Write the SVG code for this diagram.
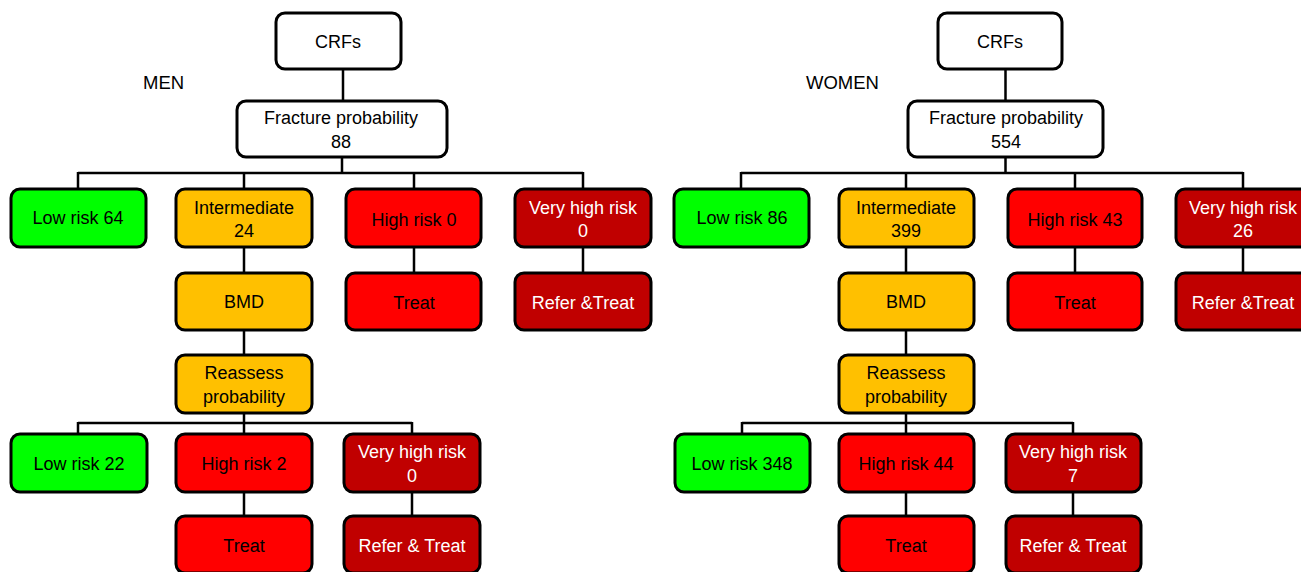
<svg xmlns="http://www.w3.org/2000/svg" width="1301" height="572" viewBox="0 0 1301 572">
<style>
.b{stroke:#000;stroke-width:3}
.wh{fill:#fff}.gr{fill:#00ff00}.am{fill:#ffc000}.rd{fill:#ff0000}.dr{fill:#c00000}
text{font-family:"Liberation Sans",Arial,sans-serif;font-size:18px;text-anchor:middle;fill:#000}
.lt{fill:#fff}
.lab{text-anchor:start;font-size:18.5px}
.c{stroke:#000;stroke-width:2.5;fill:none}
</style>
<rect width="1301" height="572" fill="#fff"/>
<g id="connectors">
<path class="c" d="M343 69V101M342 157V173M78 173H583M78 172V189M244 172V189M414 172V189M583 172V189M244 247V273M414 247V273M583 247V273M244 330V355M244 413V423M78 423H412M78 422V434M244 422V434M412 422V434M244 492V516M412 492V516"/>
<path class="c" d="M1005.5 69V101M1005.5 157V173M741 173H1243M741 172V189M906 172V189M1075 172V189M1243 172V189M906 247V273M1075 247V273M1243 247V273M906 330V355M906 413V423M742 423H1073M742 422V434M906 422V434M1073 422V434M906 492V516M1073 492V516"/>
</g>
<g id="men-label"><text class="lab" x="143" y="89">MEN</text></g>
<g id="women-label"><text class="lab" x="806" y="89">WOMEN</text></g>
<g id="m-crfs"><rect class="b wh" x="276" y="13" width="125" height="56" rx="9"/><text x="338" y="48">CRFs</text></g>
<g id="m-fp"><rect class="b wh" x="237" y="101" width="210" height="56" rx="9"/><text x="341" y="124">Fracture probability</text><text x="341" y="148">88</text></g>
<g id="m-low"><rect class="b gr" x="11" y="189" width="135" height="58" rx="9"/><text x="78" y="224">Low risk 64</text></g>
<g id="m-int"><rect class="b am" x="176" y="189" width="136" height="58" rx="9"/><text x="244" y="214">Intermediate</text><text x="244" y="237">24</text></g>
<g id="m-high"><rect class="b rd" x="346" y="189" width="135" height="58" rx="9"/><text x="414" y="226">High risk 0</text></g>
<g id="m-vhigh"><rect class="b dr" x="515" y="189" width="136" height="58" rx="9"/><text class="lt" x="583" y="214">Very high risk</text><text class="lt" x="583" y="237">0</text></g>
<g id="m-bmd"><rect class="b am" x="176" y="273" width="136" height="57" rx="9"/><text x="244" y="308">BMD</text></g>
<g id="m-treat1"><rect class="b rd" x="346" y="273" width="135" height="57" rx="9"/><text x="414" y="309">Treat</text></g>
<g id="m-refer1"><rect class="b dr" x="515" y="273" width="136" height="57" rx="9"/><text class="lt" x="583" y="309">Refer &amp;Treat</text></g>
<g id="m-reassess"><rect class="b am" x="176" y="355" width="136" height="58" rx="9"/><text x="244" y="379">Reassess</text><text x="244" y="403">probability</text></g>
<g id="m-low2"><rect class="b gr" x="11" y="434" width="136" height="58" rx="9"/><text x="79" y="470">Low risk 22</text></g>
<g id="m-high2"><rect class="b rd" x="176" y="434" width="136" height="58" rx="9"/><text x="244" y="470">High risk 2</text></g>
<g id="m-vhigh2"><rect class="b dr" x="344" y="434" width="136" height="58" rx="9"/><text class="lt" x="412" y="458">Very high risk</text><text class="lt" x="412" y="482">0</text></g>
<g id="m-treat2"><rect class="b rd" x="176" y="516" width="136" height="57" rx="9"/><text x="244" y="552">Treat</text></g>
<g id="m-refer2"><rect class="b dr" x="344" y="516" width="136" height="57" rx="9"/><text class="lt" x="412" y="552">Refer &amp; Treat</text></g>
<g id="w-crfs"><rect class="b wh" x="938" y="13" width="124" height="56" rx="9"/><text x="1000" y="48">CRFs</text></g>
<g id="w-fp"><rect class="b wh" x="908" y="101" width="195" height="56" rx="9"/><text x="1006" y="124">Fracture probability</text><text x="1006" y="148">554</text></g>
<g id="w-low"><rect class="b gr" x="674" y="189" width="135" height="58" rx="9"/><text x="742" y="224">Low risk 86</text></g>
<g id="w-int"><rect class="b am" x="839" y="189" width="135" height="58" rx="9"/><text x="906" y="214">Intermediate</text><text x="906" y="237">399</text></g>
<g id="w-high"><rect class="b rd" x="1008" y="189" width="134" height="58" rx="9"/><text x="1075" y="226">High risk 43</text></g>
<g id="w-vhigh"><rect class="b dr" x="1176" y="189" width="136" height="58" rx="9"/><text class="lt" x="1243" y="214">Very high risk</text><text class="lt" x="1243" y="237">26</text></g>
<g id="w-bmd"><rect class="b am" x="839" y="273" width="135" height="57" rx="9"/><text x="906" y="308">BMD</text></g>
<g id="w-treat1"><rect class="b rd" x="1008" y="273" width="134" height="57" rx="9"/><text x="1075" y="309">Treat</text></g>
<g id="w-refer1"><rect class="b dr" x="1176" y="273" width="136" height="57" rx="9"/><text class="lt" x="1243" y="309">Refer &amp;Treat</text></g>
<g id="w-reassess"><rect class="b am" x="839" y="355" width="135" height="58" rx="9"/><text x="906" y="379">Reassess</text><text x="906" y="403">probability</text></g>
<g id="w-low2"><rect class="b gr" x="675" y="434" width="135" height="58" rx="9"/><text x="742" y="470">Low risk 348</text></g>
<g id="w-high2"><rect class="b rd" x="839" y="434" width="135" height="58" rx="9"/><text x="906" y="470">High risk 44</text></g>
<g id="w-vhigh2"><rect class="b dr" x="1006" y="434" width="135" height="58" rx="9"/><text class="lt" x="1073" y="458">Very high risk</text><text class="lt" x="1073" y="482">7</text></g>
<g id="w-treat2"><rect class="b rd" x="839" y="516" width="135" height="57" rx="9"/><text x="906" y="552">Treat</text></g>
<g id="w-refer2"><rect class="b dr" x="1006" y="516" width="135" height="57" rx="9"/><text class="lt" x="1073" y="552">Refer &amp; Treat</text></g>
</svg>
